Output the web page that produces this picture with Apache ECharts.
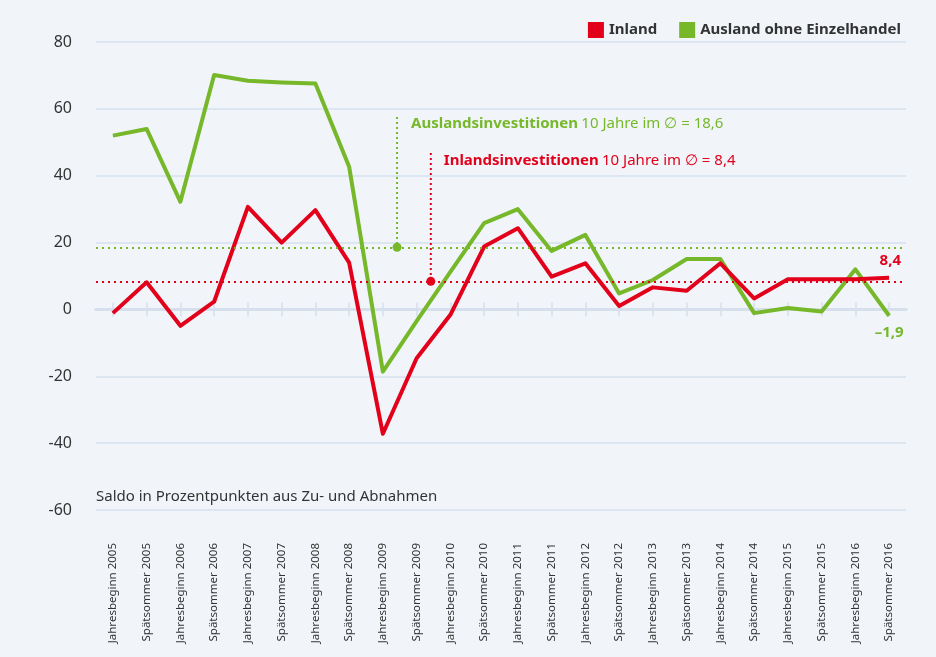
<!DOCTYPE html>
<html>
<head>
<meta charset="utf-8">
<script src="https://cdn.jsdelivr.net/npm/echarts@6/dist/echarts.min.js"></script>
<style>
  html, body { margin: 0; padding: 0; background: #f1f5fa; }
  #main { width: 936px; height: 657px; }
</style>
</head>
<body>
<div id="main"></div>
<script>
const categories = [
  'Jahresbeginn 2005', 'Spätsommer 2005', 'Jahresbeginn 2006', 'Spätsommer 2006',
  'Jahresbeginn 2007', 'Spätsommer 2007', 'Jahresbeginn 2008', 'Spätsommer 2008',
  'Jahresbeginn 2009', 'Spätsommer 2009', 'Jahresbeginn 2010', 'Spätsommer 2010',
  'Jahresbeginn 2011', 'Spätsommer 2011', 'Jahresbeginn 2012', 'Spätsommer 2012',
  'Jahresbeginn 2013', 'Spätsommer 2013', 'Jahresbeginn 2014', 'Spätsommer 2014',
  'Jahresbeginn 2015', 'Spätsommer 2015', 'Jahresbeginn 2016', 'Spätsommer 2016'
]
const inland = [-1.1, 8.1, -4.9, 2.3, 30.7, 20.0, 29.7, 14.0, -37.2, -14.6, -1.6, 18.8,
  24.3, 9.8, 13.8, 1.0, 6.6, 5.6, 13.8, 3.3, 9.0, 9.0, 9.0, 9.5]
const ausland = [52.0, 54.0, 32.2, 70.1, 68.4, 67.9, 67.6, 42.7, -18.6, -3.5, 11.2, 25.8,
  30.0, 17.5, 22.3, 4.8, 8.8, 15.1, 15.1, -1.1, 0.4, -0.6, 12.0, -1.9]
const avgInland = 8.4
const avgAusland = 18.6
const yMin = -60
const yMax = 80
const yStep = 20

const RED = '#e3001b'
const GREEN = '#76b82a'
const GRID = '#d5e0ec'
const TEXT = '#333333'
const FONT = '"Noto Sans", "Open Sans", sans-serif'

const chart = echarts.init(document.getElementById('main'))

chart.setOption({
  backgroundColor: '#f1f5fa',
  textStyle: { fontFamily: FONT },
  animation: false,
  grid: { left: 96, right: 30, top: 42, bottom: 147, containLabel: false },
  legend: {
    top: 17,
    right: 30,
    icon: 'rect',
    itemWidth: 16,
    itemHeight: 16,
    itemGap: 22,
    textStyle: { color: TEXT, fontSize: 15, fontWeight: 'bold', fontFamily: FONT },
    data: ['Inland', 'Ausland ohne Einzelhandel']
  },
  xAxis: [
    {
      type: 'category',
      data: categories,
      position: 'bottom',
      axisLine: { show: false, onZero: false },
      axisTick: { show: false },
      axisLabel: { rotate: 90, margin: 33, fontSize: 11.5, color: TEXT, fontFamily: FONT, interval: 0 }
    },
    {
      // zero line with ticks pointing down
      type: 'category',
      data: categories,
      position: 'bottom',
      axisLine: { show: true, onZero: true, onZeroAxisIndex: 0, lineStyle: { color: GRID, width: 3 } },
      axisTick: { show: true, interval: 0, alignWithLabel: true, length: 7, lineStyle: { color: GRID, width: 1.5 } },
      axisLabel: { show: false }
    },
    {
      // same ticks pointing up
      type: 'category',
      data: categories,
      position: 'top',
      axisLine: { show: true, onZero: true, onZeroAxisIndex: 1, lineStyle: { color: GRID, width: 3 } },
      axisTick: { show: true, interval: 0, alignWithLabel: true, length: 7, lineStyle: { color: GRID, width: 1.5 } },
      axisLabel: { show: false }
    }
  ],
  yAxis: [
    {
      type: 'value',
      min: yMin,
      max: yMax,
      interval: yStep,
      axisLine: { show: false },
      axisTick: { show: false },
      axisLabel: { margin: 24, fontSize: 16, color: TEXT, fontFamily: FONT, formatter: v => String(v) },
      splitLine: { lineStyle: { color: GRID, width: 1.5 } }
    },
    {
      type: 'value',
      min: yMin,
      max: yMax,
      interval: yStep,
      show: false,
      splitLine: { show: false }
    }
  ],
  series: [
    {
      name: 'Inland',
      type: 'line',
      data: inland,
      color: RED,
      symbol: 'none',
      lineStyle: { width: 4, color: RED, join: 'round' },
      z: 4,
      markLine: {
        silent: true,
        symbol: 'none',
        lineStyle: { type: [2, 4], color: RED, width: 2 },
        label: {
          show: true, position: 'insideEndTop', distance: [5, 13], formatter: '8,4',
          color: RED, fontWeight: 'bold', fontSize: 15, fontFamily: FONT
        },
        data: [{ yAxis: avgInland }]
      }
    },
    {
      name: 'Ausland ohne Einzelhandel',
      type: 'line',
      data: ausland,
      color: GREEN,
      symbol: 'none',
      lineStyle: { width: 4, color: GREEN, join: 'round' },
      z: 3,
      endLabel: {
        show: true, formatter: '–1,9', distance: 0, offset: [0, 17],
        align: 'center', verticalAlign: 'middle',
        color: GREEN, fontWeight: 'bold', fontSize: 15, fontFamily: FONT
      },
      markLine: {
        silent: true,
        symbol: 'none',
        lineStyle: { type: [2, 4], color: GREEN, width: 2 },
        label: { show: false },
        data: [{ yAxis: avgAusland }]
      }
    }
  ]
})

// annotation pointers between the 2009 categories
function catX(idx, frac) {
  const a = chart.convertToPixel({ xAxisIndex: 0 }, categories[idx])
  const b = chart.convertToPixel({ xAxisIndex: 0 }, categories[idx + 1])
  return a + (b - a) * frac
}
const gx = catX(8, 0.42)
const rx = catX(9, 0.42)
const gy = chart.convertToPixel({ yAxisIndex: 0 }, avgAusland)
const ry = chart.convertToPixel({ yAxisIndex: 0 }, avgInland)

chart.setOption({
  graphic: [
    { type: 'line', shape: { x1: gx, y1: 117, x2: gx, y2: gy }, style: { stroke: GREEN, lineWidth: 2, lineDash: [2, 3] }, z: 10 },
    { type: 'circle', shape: { cx: gx, cy: gy, r: 4.5 }, style: { fill: GREEN }, z: 10 },
    { type: 'line', shape: { x1: rx, y1: 153, x2: rx, y2: ry }, style: { stroke: RED, lineWidth: 2, lineDash: [2, 3] }, z: 10 },
    { type: 'circle', shape: { cx: rx, cy: ry, r: 4.5 }, style: { fill: RED }, z: 10 },
    {
      type: 'text', x: gx + 14, y: 124, z: 10,
      style: {
        text: '{b|Auslandsinvestitionen} {n|10 Jahre im ∅ = 18,6}',
        verticalAlign: 'middle',
        rich: {
          b: { fill: GREEN, fontWeight: 'bold', fontSize: 15, fontFamily: FONT },
          n: { fill: GREEN, fontSize: 15, fontFamily: FONT }
        }
      }
    },
    {
      type: 'text', x: rx + 13, y: 161, z: 10,
      style: {
        text: '{b|Inlandsinvestitionen} {n|10 Jahre im ∅ = 8,4}',
        verticalAlign: 'middle',
        rich: {
          b: { fill: RED, fontWeight: 'bold', fontSize: 15, fontFamily: FONT },
          n: { fill: RED, fontSize: 15, fontFamily: FONT }
        }
      }
    },
    {
      type: 'text', x: 96, y: 497, z: 10,
      style: { text: 'Saldo in Prozentpunkten aus Zu- und Abnahmen', fill: TEXT, fontSize: 15, fontFamily: FONT, verticalAlign: 'middle' }
    }
  ]
})
</script>
</body>
</html>
